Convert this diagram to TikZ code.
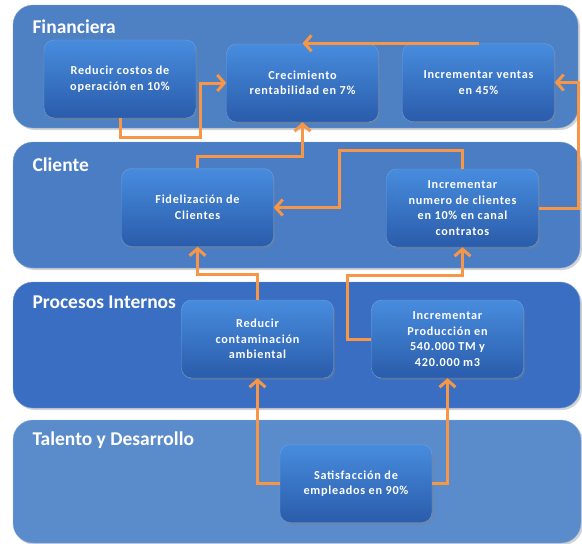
\documentclass[tikz,border=0pt]{standalone}
\usepackage{fontspec}
\setmainfont{Carlito}
\newfontfamily\goalfont[LetterSpace=6]{Carlito}
\usetikzlibrary{arrows.meta,shadows}
\definecolor{finblue}{RGB}{78,128,196}
\definecolor{cliblue}{RGB}{74,125,196}
\definecolor{problue}{RGB}{58,110,194}
\definecolor{talblue}{RGB}{90,140,204}
\definecolor{goaltop}{RGB}{72,140,222}
\definecolor{goalbot}{RGB}{42,92,170}
\definecolor{goalline}{RGB}{110,160,225}
\definecolor{linkorange}{RGB}{247,150,70}
\begin{document}
\begin{tikzpicture}[x=1pt,y=-1pt,>={Straight Barb[length=7pt,width=16pt]},
		panel/.style={rounded corners=20pt,draw=white!30!#1,fill=#1,inner sep=0pt,
			drop shadow={shadow xshift=2pt,shadow yshift=-2pt,opacity=.35}},
		paneltitle/.style={anchor=west,text=white,font=\bfseries\fontsize{19.5}{23}\selectfont},
		goal/.style={rounded corners=10pt,draw=goalline,top color=goaltop,bottom color=goalbot,
			minimum width=152pt,minimum height=78pt,inner sep=2pt,align=center,text=white,
			font=\goalfont\bfseries\fontsize{12.2}{15.5}\selectfont,
			drop shadow={shadow xshift=1.5pt,shadow yshift=-2pt,opacity=.4}},
		link/.style={draw=linkorange,line width=3pt}]
	\useasboundingbox (0,0) rectangle (582,544);
	\node[panel=finblue,minimum width=565pt,minimum height=123pt] (fin) at (295.5,66.5) {};
	\node[panel=cliblue,minimum width=567pt,minimum height=126pt] (cli) at (296.5,205) {};
	\node[panel=problue,minimum width=567pt,minimum height=126pt] (pro) at (296.5,345) {};
	\node[panel=talblue,minimum width=568pt,minimum height=123pt] (tal) at (297,481.5) {};
	\node[paneltitle] (finT) at (29,27) {Financiera};
	\node[paneltitle] (cliT) at (29,165) {Cliente};
	\node[paneltitle] (proT) at (29,302) {Procesos Internos};
	\node[paneltitle] (talT) at (29,440) {Talento y Desarrollo};
	\node[goal] (costos) at (120,79) {Reducir costos de\\operación en 10\%};
	\node[goal] (crec) at (302.5,83) {Crecimiento\\rentabilidad en 7\%};
	\node[goal] (ventas) at (478.5,82.5) {Incrementar ventas\\en 45\%};
	\node[goal] (fidel) at (197.5,207.5) {Fidelización de\\Clientes};
	\node[goal] (numero) at (462.5,208) {Incrementar\\numero de clientes\\en 10\% en canal\\contratos};
	\node[goal] (contam) at (257.5,339) {Reducir\\contaminación\\ambiental};
	\node[goal] (produc) at (447.5,339) {Incrementar\\Producción en\\540.000 TM y\\420.000 m3};
	\node[goal] (satis) at (356,483.5) {Satisfacción de\\empleados en 90\%};
	\draw[link,->] (costos.south) |- (200,137) coordinate (c1) |- (crec.west);
	\draw[link,->] (ventas.north) -- (ventas.north -| crec.north);
	\draw[link,->] (numero.east) -| (578,82.5) coordinate (v1) -- (ventas.east);
	\draw[link,->] (numero.north) |- (339,150) coordinate (n1) |- (fidel.east);
	\draw[link,->] (fidel.north) -- ++(0,-12) coordinate (f1) -| (crec.south);
	\draw[link,->] (contam.north) -- ++(0,-25) coordinate (r1) -| (fidel.south);
	\draw[link,->] (produc.west) -| (347,275) coordinate (p1) -| (numero.south);
	\draw[link,->] (satis.west) -| (contam.south);
	\draw[link,->] (satis.east) -| (produc.south);
\end{tikzpicture}
\end{document}
